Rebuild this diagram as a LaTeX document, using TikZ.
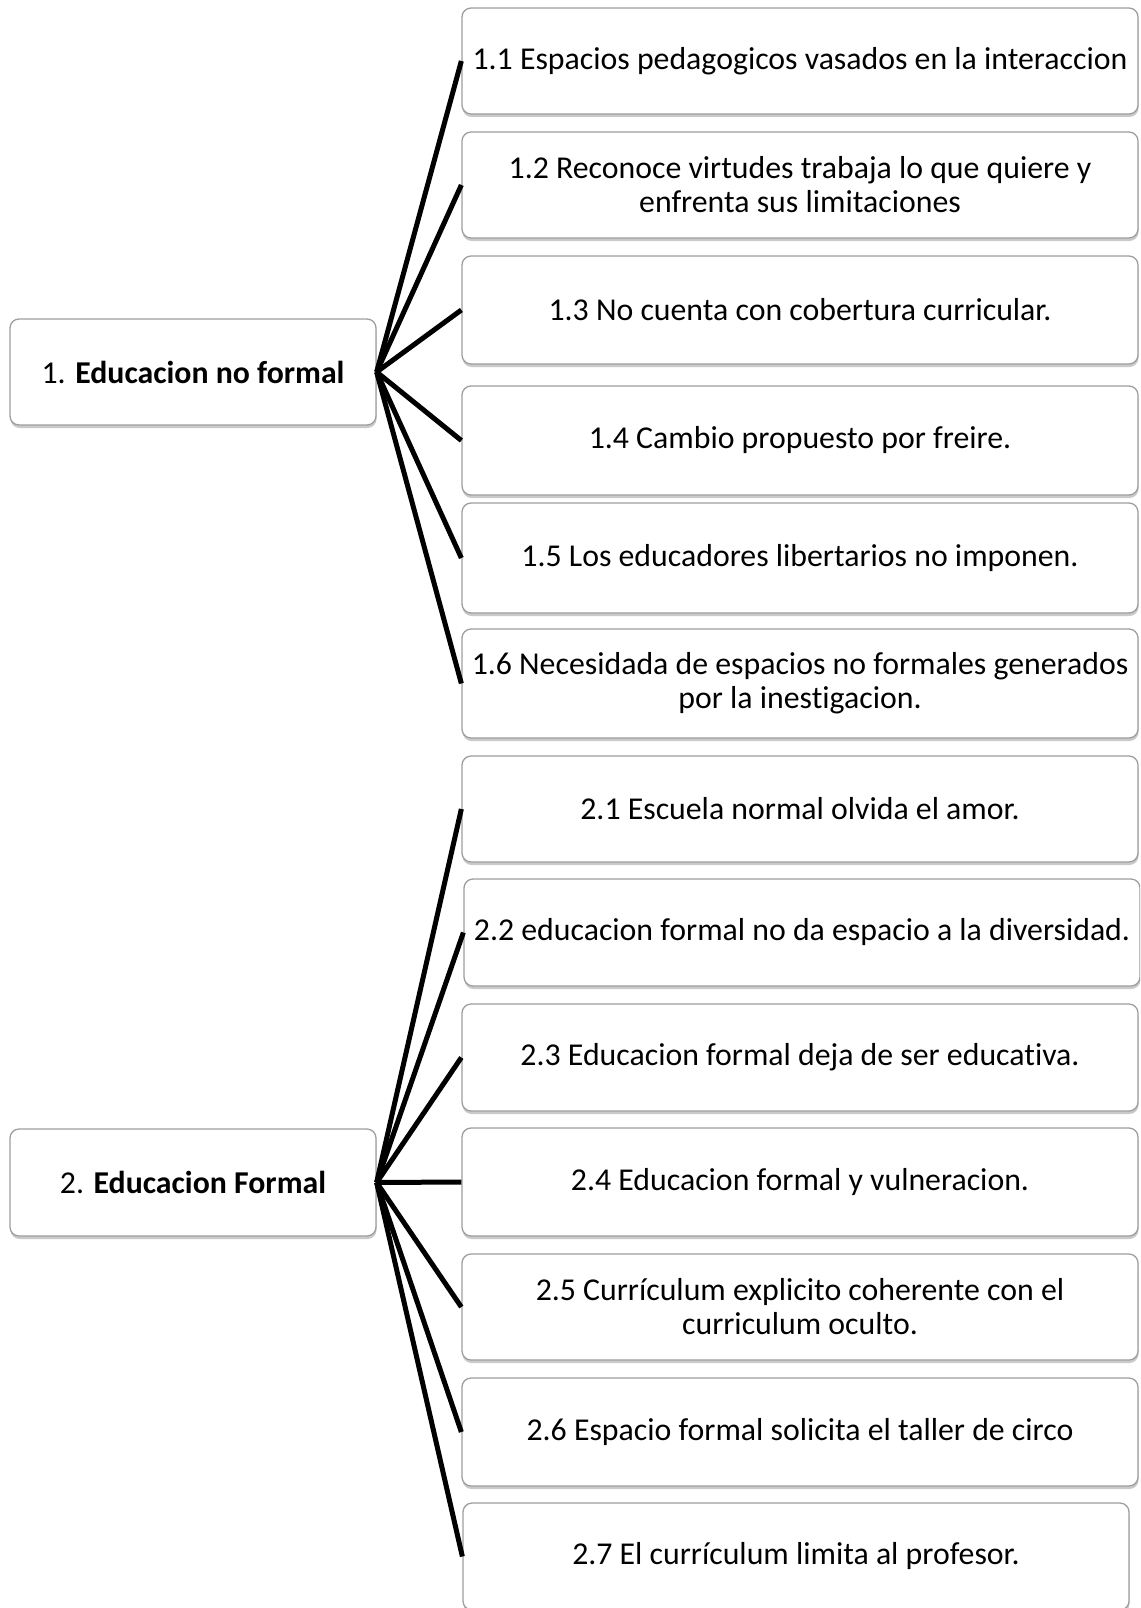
\documentclass[tikz,border=0pt]{standalone}
\usepackage{fontspec}
\setmainfont[Ligatures={NoCommon}]{Carlito}
\usetikzlibrary{shadows}
\begin{document}
\begin{tikzpicture}[x=1pt,y=-1pt,
  boxstyle/.style={draw=black!38, line width=1.3pt, rounded corners=9pt, fill=white,
    drop shadow={shadow xshift=0.5pt, shadow yshift=-3pt, opacity=0.35, fill=black!60},
    inner sep=0pt, align=center, font=\fontsize{31.8pt}{34pt}\selectfont},
  leftbox/.style={boxstyle, minimum width=366pt, minimum height=106pt},
  rightbox/.style={boxstyle, minimum width=676pt, minimum height=107pt},
  link/.style={line width=5pt, black}]
\useasboundingbox (0,0) rectangle (1140,1608);
\begin{scope}
\clip (0,0) rectangle (1140,1608);
\node[leftbox] (a) at (193,372) {1. \textbf{Educacion no formal}};
\node[leftbox, minimum height=107pt] (b) at (193,1182.5) {2. \textbf{Educacion Formal}};

\node[rightbox, minimum height=106pt] (a1) at (800,61) {1.1 Espacios pedagogicos vasados en la interaccion};
\node[rightbox, minimum height=106pt] (a2) at (800,185) {1.2 Reconoce virtudes trabaja lo que quiere y\\enfrenta sus limitaciones};
\node[rightbox, minimum height=108pt] (a3) at (800,310) {1.3 No cuenta con cobertura curricular.};
\node[rightbox, minimum height=109pt] (a4) at (800,440.5) {1.4 Cambio propuesto por freire.};
\node[rightbox, minimum height=110pt] (a5) at (800,558) {1.5 Los educadores libertarios no imponen.};
\node[rightbox, minimum height=109pt] (a6) at (800,683.5) {1.6 Necesidada de espacios no formales generados\\por la inestigacion.};

\node[rightbox, minimum height=106pt] (b1) at (800,809) {2.1 Escuela normal olvida el amor.};
\node[rightbox] (b2) at (802,932.5) {2.2 educacion formal no da espacio a la diversidad.};
\node[rightbox] (b3) at (800,1057.5) {2.3 Educacion formal deja de ser educativa.};
\node[rightbox, minimum height=108pt] (b4) at (800,1182) {2.4 Educacion formal y vulneracion.};
\node[rightbox, minimum height=106pt] (b5) at (800,1307) {2.5 Currículum explicito coherente con el\\curriculum oculto.};
\node[rightbox, minimum height=108pt] (b6) at (800,1432) {2.6 Espacio formal solicita el taller de circo};
\node[rightbox, minimum width=666pt] (b7) at (796,1556.5) {2.7 El currículum limita al profesor.};

\foreach \n in {a1,a2,a3,a4,a5,a6} \draw[link] (a.east) -- (\n.west);
\foreach \n in {b1,b2,b3,b4,b5,b6,b7} \draw[link] (b.east) -- (\n.west);
\end{scope}
\end{tikzpicture}
\end{document}
